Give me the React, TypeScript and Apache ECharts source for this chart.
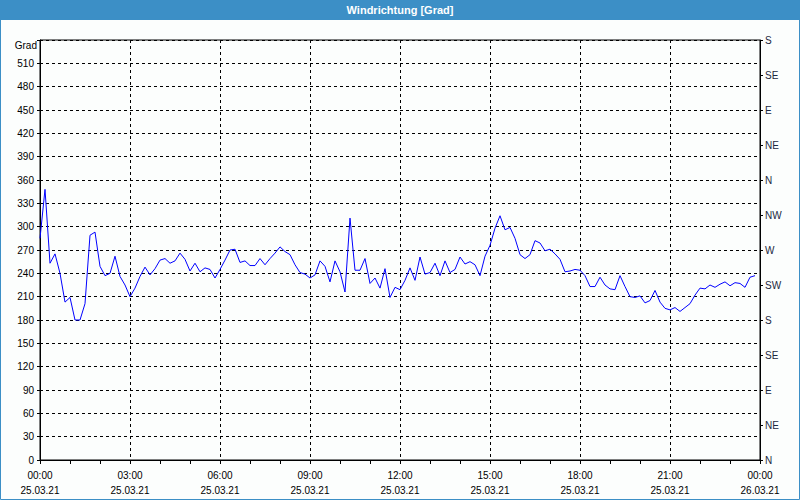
import React, { useEffect, useRef } from "react";
import * as echarts from "echarts";

// Wind direction (degrees), one reading every 10 minutes from 25.03.21 00:00
const stepMinutes = 10;
const windDir: number[] = [
  285, 348, 253, 265, 240, 203, 209, 180, 180, 201, 289, 293,
  249, 237, 240, 262, 236, 225, 210, 221, 236, 248, 238, 246,
  257, 259, 253, 256, 266, 258, 243, 253, 242, 247, 245, 234,
  245, 257, 270, 271, 254, 256, 250, 250, 259, 251, 259, 266,
  274, 268, 264, 251, 241, 239, 234, 238, 256, 249, 229, 256,
  242, 216, 311, 244, 244, 259, 227, 234, 221, 246, 209, 222,
  219, 231, 247, 231, 261, 239, 241, 253, 237, 256, 241, 245,
  261, 252, 255, 251, 237, 262, 276, 298, 314, 296, 299, 285,
  264, 259, 264, 282, 279, 269, 271, 265, 258, 242, 243, 245,
  244, 237, 223, 223, 235, 225, 220, 219, 237, 223, 210, 209,
  211, 202, 205, 218, 203, 195, 193, 196, 191, 196, 201, 212,
  221, 220, 225, 222, 226, 229, 224, 228, 227, 222, 235, 237,
];

// Right axis compass labels (0..540 every 45 degrees)
const compassLabels: string[] = [
  "N", "NE", "E", "SE", "S", "SW", "W", "NW", "N", "NE", "E", "SE", "S",
];

const dates: string[] = ["25.03.21", "26.03.21"];
const titleText = "Windrichtung [Grad]";
const unitText = "Grad";

const FONT = "Liberation Sans";
const BLUE = "#3c8fc6";

export default function App() {
  const ref = useRef<HTMLDivElement>(null);
  useEffect(() => {
    document.body.style.margin = "0";
    if (!ref.current) return;
    const chart = echarts.init(ref.current, null, { renderer: "svg" });
    const data = windDir.map((v, i) => [i * stepMinutes, v]);
    const pad = (n: number) => (n < 10 ? "0" + n : "" + n);
    chart.setOption({
      animation: false,
      backgroundColor: "#fcfefd",
      textStyle: { fontFamily: FONT },
      graphic: [
        { type: "rect", shape: { x: 0, y: 0, width: 800, height: 20 }, style: { fill: BLUE }, z: 10 },
        {
          type: "text", x: 400, y: 10, z: 11,
          style: { text: titleText, fill: "#ffffff", font: "bold 11px " + FONT, align: "center", verticalAlign: "middle" },
        },
        {
          type: "rect", shape: { x: 0.5, y: 0.5, width: 799, height: 499 },
          style: { fill: "none", stroke: BLUE, lineWidth: 1 }, z: 10,
        },
        {
          type: "text", x: 37, y: 45, z: 11,
          style: { text: unitText, fill: "#000", font: "10px " + FONT, align: "right", verticalAlign: "middle" },
        },
      ],
      grid: { left: 40, right: 40, top: 40, bottom: 40, show: true, borderColor: "#000", borderWidth: 1, backgroundColor: "transparent" },
      xAxis: {
        type: "value",
        min: 0,
        max: 1440,
        interval: 180,
        axisLine: { show: true, lineStyle: { color: "#000", width: 1 } },
        axisTick: { show: true, length: 4, inside: false, lineStyle: { color: "#000" } },
        minorTick: { show: true, splitNumber: 3, length: 4, lineStyle: { color: "#000" } },
        splitLine: { show: true, lineStyle: { color: "#000", type: [3, 3], width: 1 } },
        axisLabel: {
          margin: 8,
          color: "#000",
          fontSize: 10,
          lineHeight: 15,
          fontFamily: FONT,
          formatter: (v: number) => {
            const h = Math.floor(v / 60) % 24;
            const m = v % 60;
            const d = v >= 1440 ? dates[1] : dates[0];
            return pad(h) + ":" + pad(m) + "\n" + d;
          },
        },
      },
      yAxis: [
        {
          type: "value",
          min: 0,
          max: 540,
          interval: 30,
          axisLine: { show: true, lineStyle: { color: "#000" } },
          axisTick: { show: true, length: 3, lineStyle: { color: "#000" } },
          splitLine: { show: true, lineStyle: { color: "#000", type: [3, 3], width: 1 } },
          axisLabel: {
            margin: 6,
            color: "#000",
            fontSize: 10,
            fontFamily: FONT,
            formatter: (v: number) => (v >= 540 ? "" : String(v)),
          },
        },
        {
          type: "value",
          position: "right",
          min: 0,
          max: 540,
          interval: 45,
          axisLine: { show: true, lineStyle: { color: "#000" } },
          axisTick: { show: true, length: 3, lineStyle: { color: "#000" } },
          splitLine: { show: false },
          axisLabel: {
            margin: 5,
            color: "#1b2840",
            fontSize: 10,
            fontFamily: FONT,
            formatter: (v: number) => compassLabels[Math.round(v / 45)] ?? "",
          },
        },
      ],
      series: [
        {
          type: "line",
          data,
          yAxisIndex: 0,
          showSymbol: false,
          symbol: "none",
          lineStyle: { color: "#0000ff", width: 1 },
          z: 5,
        },
      ],
    });
    return () => chart.dispose();
  }, []);
  return <div ref={ref} style={{ width: 800, height: 500 }} />;
}
